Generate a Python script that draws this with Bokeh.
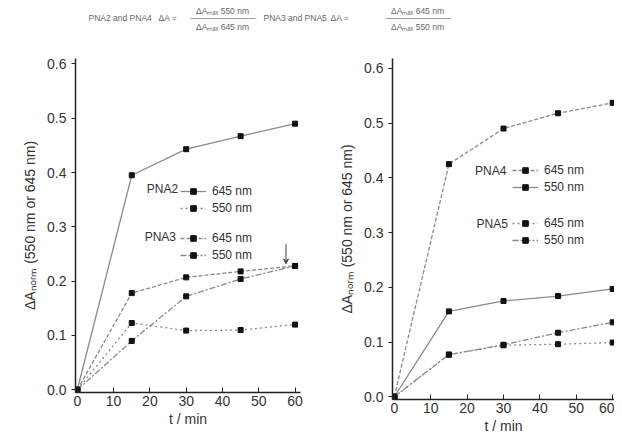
from bokeh.plotting import figure
from bokeh.layouts import column, row
from bokeh.models import Range1d, Legend, LegendItem, Label, Arrow, VeeHead, ColumnDataSource, NumeralTickFormatter
from bokeh.embed import file_html
from bokeh.resources import INLINE

# ---- data ----
t = [0, 15, 30, 45, 60]
pna2_645 = [0.0, 0.395, 0.443, 0.467, 0.49]
pna2_550 = [0.0, 0.123, 0.109, 0.110, 0.120]
pna3_645 = [0.0, 0.178, 0.207, 0.218, 0.228]
pna3_550 = [0.0, 0.090, 0.172, 0.204, 0.228]

pna4_645 = [0.0, 0.425, 0.490, 0.518, 0.537]
pna4_550 = [0.0, 0.156, 0.175, 0.184, 0.197]
pna5_645 = [0.0, 0.077, 0.094, 0.096, 0.099]
pna5_550 = [0.0, 0.077, 0.095, 0.117, 0.136]

x_ticks = [0, 10, 20, 30, 40, 50, 60]
y_ticks = [0.0, 0.1, 0.2, 0.3, 0.4, 0.5, 0.6]
x_label = "t / min"
y_label = "ΔAₙₒᵣₘ (550 nm or 645 nm)"

FONT = "Liberation Sans"
GREY = "#333333"
LINE = "#8a8a8a"

def panel(width_frame, height_frame, xr, ytop, border_left, border_top, border_right, border_bottom):
    p = figure(output_backend="svg", toolbar_location=None,
               frame_width=width_frame, frame_height=height_frame,
               x_range=Range1d(*xr), y_range=Range1d(-0.005, ytop),
               min_border_left=border_left, min_border_top=border_top,
               min_border_right=border_right, min_border_bottom=border_bottom)
    p.xgrid.visible = False
    p.ygrid.visible = False
    p.outline_line_color = None
    p.background_fill_color = "white"
    for ax in (p.xaxis, p.yaxis):
        ax.axis_line_color = "#222222"
        ax.axis_line_width = 1.5
        ax.major_tick_line_color = "#222222"
        ax.minor_tick_line_color = "#222222"
        ax.major_label_text_font = FONT
        ax.major_label_text_font_size = "14px"
        ax.major_label_text_color = GREY
        ax.axis_label_text_font = FONT
        ax.axis_label_text_font_size = "14px"
        ax.axis_label_text_font_style = "normal"
        ax.axis_label_text_color = GREY
    p.xaxis.ticker = x_ticks
    p.yaxis.ticker = y_ticks
    p.yaxis.formatter = NumeralTickFormatter(format="0.0")
    p.xaxis.major_tick_out = 0
    p.xaxis.major_tick_in = 5
    p.yaxis.major_tick_out = 4
    p.yaxis.major_tick_in = 0
    p.xaxis.axis_label = x_label
    p.yaxis.axis_label = y_label
    p.xaxis.axis_label_standoff = 2
    p.yaxis.axis_label_standoff = 6
    p.xaxis.major_label_standoff = 3
    return p

def series(p, y, dash):
    src = ColumnDataSource(dict(t=t, y=y))
    r1 = p.line("t", "y", source=src, line_color=LINE, line_width=1.3, line_dash=dash)
    r2 = p.scatter("t", "y", source=src, marker="square", size=5, fill_color="#111111", line_color="#111111")
    return [r1, r2]

def add_legend(p, items, loc):
    lg = Legend(items=items, location=loc, border_line_color=None,
                background_fill_alpha=0, label_text_font=FONT,
                label_text_font_size="12px", label_text_color=GREY,
                glyph_width=26, glyph_height=14, label_height=14,
                spacing=3, padding=0, margin=0, label_standoff=6)
    p.add_layout(lg, "center")

def group_label(p, text, x, y):
    p.add_layout(Label(x=x, y=y, text=text, text_font=FONT, text_font_size="12px",
                       text_color=GREY, text_align="right", text_baseline="middle"))

# ---- header ----
H = 46
hdr = figure(output_backend="svg", toolbar_location=None, width=614, height=H,
             x_range=Range1d(0, 614), y_range=Range1d(0, H),
             min_border=0, outline_line_color=None)
hdr.axis.visible = False
hdr.xgrid.visible = False
hdr.ygrid.visible = False
hdr_text = ["PNA2 and PNA4", "ΔA =", "ΔAₘₐₓ 550 nm", "ΔAₘₐₓ 645 nm",
            "PNA3 and PNA5", "ΔA =", "ΔAₘₐₓ 645 nm", "ΔAₘₐₓ 550 nm"]
hx = [88, 158, 222, 222, 263, 330, 417, 417]
hy = [H - 17, H - 17, H - 10, H - 26, H - 17, H - 17, H - 10, H - 26]
halign = ["left", "left", "center", "center", "left", "left", "center", "center"]
hdr.text(x=hx, y=hy, text=hdr_text, text_align=halign, text_baseline="middle",
         text_font_size="8.5px", text_color="#666666", text_font={"value": FONT})
hdr.segment(x0=[190, 385], y0=[H - 18, H - 18], x1=[255, 450], y1=[H - 18, H - 18],
            line_color="#999999", line_width=1)

# ---- left panel ----
p1 = panel(225, 334, (-0.5, 61.5), 0.61, 75, 12, 10, 37)
l1 = series(p1, pna2_645, "solid")
l2 = series(p1, pna2_550, "2 3")
l3 = series(p1, pna3_645, "4 2")
l4 = series(p1, pna3_550, "6 2 2 2")
add_legend(p1, [LegendItem(label="645 nm", renderers=l1),
                LegendItem(label="550 nm", renderers=l2)], (105, 177))
add_legend(p1, [LegendItem(label="645 nm", renderers=l3),
                LegendItem(label="550 nm", renderers=l4)], (105, 130))
group_label(p1, "PNA2", 27.8, 0.370)
group_label(p1, "PNA3", 27.2, 0.281)
p1.add_layout(Arrow(end=VeeHead(size=5, line_color="#444444", fill_color="#444444"),
                    x_start=57.5, y_start=0.268, x_end=57.5, y_end=0.232,
                    line_color="#444444", line_width=1))

# ---- right panel ----
p2 = panel(222, 341, (-0.5, 60.5), 0.618, 82, 12, 0, 30)
r1 = series(p2, pna4_645, "4 2")
r2 = series(p2, pna4_550, "solid")
r3 = series(p2, pna5_645, "2 3")
r4 = series(p2, pna5_550, "6 2 2 2")
add_legend(p2, [LegendItem(label="645 nm", renderers=r1),
                LegendItem(label="550 nm", renderers=r2)], (120, 205))
add_legend(p2, [LegendItem(label="645 nm", renderers=r3),
                LegendItem(label="550 nm", renderers=r4)], (120, 152))
group_label(p2, "PNA4", 30.8, 0.413)
group_label(p2, "PNA5", 31.2, 0.316)

layout = column(hdr, row(p1, p2, spacing=0), spacing=0)
open("out.html", "w").write(file_html(layout, INLINE))
